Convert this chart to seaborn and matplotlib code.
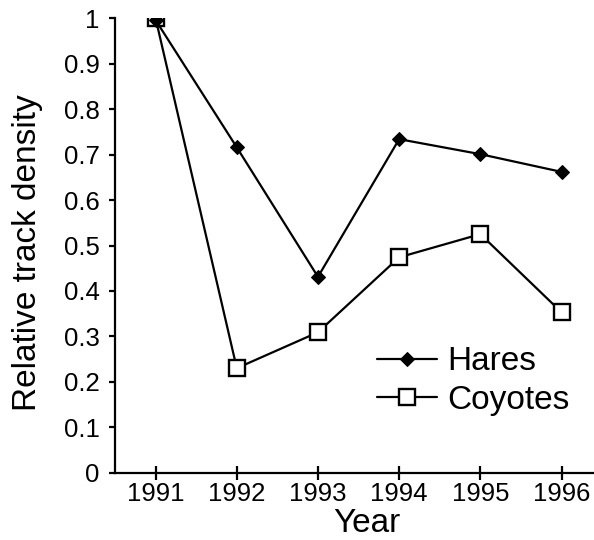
import matplotlib
matplotlib.use("Agg")
import matplotlib.pyplot as plt
import seaborn as sns
import pandas as pd
from matplotlib.ticker import FuncFormatter

years = [1991, 1992, 1993, 1994, 1995, 1996]
hares = [0.996, 0.716, 0.431, 0.734, 0.701, 0.662]
coyotes = [1.0, 0.230, 0.309, 0.474, 0.525, 0.353]
series_names = ["Hares", "Coyotes"]
y_ticks = [0, 0.1, 0.2, 0.3, 0.4, 0.5, 0.6, 0.7, 0.8, 0.9, 1.0]

sns.set_style("ticks")
plt.rcParams['font.family'] = ['Liberation Sans', 'DejaVu Sans']
plt.rcParams['text.color'] = 'black'
plt.rcParams['axes.labelcolor'] = 'black'
plt.rcParams['xtick.color'] = 'black'
plt.rcParams['ytick.color'] = 'black'

df = pd.DataFrame({"Year": years, "Hares": hares, "Coyotes": coyotes})

fig = plt.figure(figsize=(5.94, 5.40), dpi=100)
ax = fig.add_axes([115/594, 1-472.7/540, 1-115/594, (472.7-18.3)/540])

sns.lineplot(data=df, x="Year", y="Coyotes", ax=ax, color="black", lw=1.6,
             marker="s", markersize=11, markerfacecolor="white",
             markeredgecolor="black", markeredgewidth=1.7, label=series_names[1])
sns.lineplot(data=df, x="Year", y="Hares", ax=ax, color="black", lw=1.6,
             marker="D", markersize=7, markerfacecolor="black",
             markeredgecolor="black", label=series_names[0])

ax.set_xlim(1990.5, 1996.4)
ax.set_ylim(0, 1)
ax.set_xticks(years)
ax.set_yticks(y_ticks)
ax.yaxis.set_major_formatter(FuncFormatter(lambda v, p: f"{v:g}"))
ax.xaxis.set_major_formatter(FuncFormatter(lambda v, p: f"{int(v)}"))

for s in ["top", "right"]:
    ax.spines[s].set_visible(False)
for s in ["left", "bottom"]:
    ax.spines[s].set_linewidth(1.6)
    ax.spines[s].set_color("black")

ax.tick_params(axis="y", direction="out", length=4, width=1.6, pad=7,
               labelsize=18.5, colors="black")
ax.tick_params(axis="x", direction="inout", length=10, width=1.6, pad=2,
               labelsize=18.5, colors="black")

ax.set_xlabel("Year", fontsize=24, color="black")
ax.set_ylabel("Relative track density", fontsize=24, color="black")
ax.xaxis.set_label_coords(0.526, -0.077)
ax.yaxis.set_label_coords(-0.15, 0.4846)

h, l = ax.get_legend_handles_labels()
order = [l.index("Hares"), l.index("Coyotes")]
leg = ax.legend([h[i] for i in order], [l[i] for i in order], frameon=False,
                fontsize=24, handlelength=1.8, handletextpad=0.3, labelspacing=0.22,
                borderpad=0, borderaxespad=0, loc="center left",
                bbox_to_anchor=(377/594, 1-381/540), bbox_transform=fig.transFigure)
for t in leg.get_texts():
    t.set_color("black")

fig.savefig("out.png", dpi=100)
